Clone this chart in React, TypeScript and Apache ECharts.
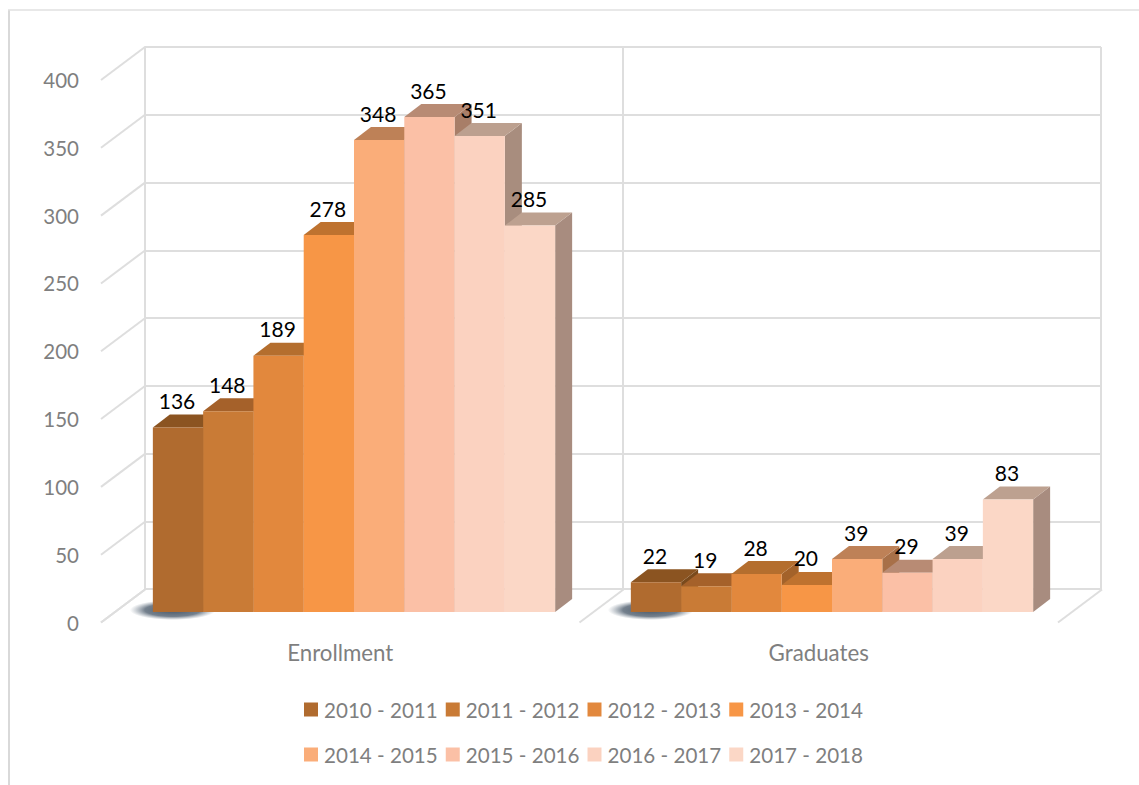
import React, { useEffect, useRef } from "react";
import * as echarts from "echarts";

const categories = ["Enrollment", "Graduates"];
const periods = ["2010 - 2011", "2011 - 2012", "2012 - 2013", "2013 - 2014", "2014 - 2015", "2015 - 2016", "2016 - 2017", "2017 - 2018"];
const v2010 = [136, 22];
const v2011 = [148, 19];
const v2012 = [189, 28];
const v2013 = [278, 20];
const v2014 = [348, 39];
const v2015 = [365, 29];
const v2016 = [351, 39];
const v2017 = [285, 83];
const allValues = [v2010, v2011, v2012, v2013, v2014, v2015, v2016, v2017];
const valueTicks = [0, 50, 100, 150, 200, 250, 300, 350, 400];
const floorStops = [0, 1, 2];

const frontColors = ["#B06B2F", "#C97B36", "#E2883D", "#F79646", "#FAAD79", "#FBC0A6", "#FBD2C0", "#FBD7C6"];
const topColors = ["#8B5421", "#A5612A", "#B46E2E", "#BE722F", "#BE8157", "#B88B74", "#BCA08F", "#BDA190"];
const sideColors = ["#7A4A1C", "#8C5524", "#A3622A", "#A8652A", "#A87048", "#A87E68", "#A88D7E", "#A88C7F"];

const FONT = "Lato";
const GREY = "#7F7F7F";
const WALL = "#DEDEDE";
const DEPTH_X = 17;
const DEPTH_Y = 13;
const WALL_X = 44;
const WALL_Y = 33;

function barRenderer(seriesIndex: number) {
  return (params: any, api: any) => {
    const cat = api.value(0);
    const val = api.value(1);
    const top = api.coord([cat, val]);
    const base = api.coord([cat, 0]);
    const w = api.size([1, 0])[0] * 0.1052;
    const x0 = top[0] + (seriesIndex - 4) * w;
    const x1 = x0 + w;
    const y0 = top[1];
    const y1 = base[1];
    const children: any[] = [];
    if (seriesIndex === 0) {
      children.push({
        type: "ellipse",
        shape: { cx: x0 + 20, cy: y1 - 2, rx: 43, ry: 10 },
        style: {
          fill: {
            type: "radial", x: 0.5, y: 0.5, r: 0.5,
            colorStops: [
              { offset: 0, color: "rgba(62,78,95,0.95)" },
              { offset: 0.65, color: "rgba(70,86,103,0.75)" },
              { offset: 1, color: "rgba(110,125,140,0)" },
            ],
          },
        },
      });
    }
    children.push(
      { type: "polygon", shape: { points: [[x1, y0], [x1 + DEPTH_X, y0 - DEPTH_Y], [x1 + DEPTH_X, y1 - DEPTH_Y], [x1, y1]] }, style: { fill: sideColors[seriesIndex] } },
      { type: "polygon", shape: { points: [[x0, y0], [x0 + DEPTH_X, y0 - DEPTH_Y], [x1 + DEPTH_X, y0 - DEPTH_Y], [x1, y0]] }, style: { fill: topColors[seriesIndex] } },
      { type: "rect", shape: { x: x0, y: y0, width: w, height: y1 - y0 }, style: { fill: frontColors[seriesIndex] } },
      {
        type: "text", z2: 100,
        style: { text: String(val), x: x0 + w / 2 - 1, y: y0 - 27, align: "center", verticalAlign: "middle", fill: "#000", font: `21px ${FONT}` },
      }
    );
    return { type: "group", children };
  };
}

function wallLines(params: any, api: any) {
  const cs = params.coordSys;
  const kind = api.value(0);
  const v = api.value(1);
  let x = cs.x;
  let y = api.coord([0, 0])[1];
  if (kind === 0) y = api.coord([0, v])[1];
  else x = cs.x + (v * cs.width) / 2;
  return {
    type: "line",
    shape: { x1: x, y1: y, x2: x + WALL_X, y2: y - WALL_Y },
    style: { stroke: WALL, lineWidth: 2 },
  };
}

export default function App() {
  const ref = useRef<HTMLDivElement>(null);
  useEffect(() => {
    document.body.style.margin = "0";
    const chart = echarts.init(ref.current!, null, { renderer: "svg" });
    const hiddenCat = { type: "category", data: categories, show: false };
    const hiddenVal = { type: "value", min: 0, max: 400, interval: 50, show: false };
    const legendBase = { orient: "horizontal", left: 299, itemWidth: 14, itemHeight: 14, itemGap: 8, icon: "rect", selectedMode: false, textStyle: { color: GREY, fontFamily: FONT, fontSize: 20.6, padding: [0, 0, 0, 1] } };
    chart.setOption({
      animation: false,
      backgroundColor: "#fff",
      graphic: [
        { type: "line", silent: true, z: -1, shape: { x1: 9, y1: 10, x2: 9, y2: 785 }, style: { stroke: "#D9D9D9", lineWidth: 2 } },
        { type: "line", silent: true, z: -1, shape: { x1: 8, y1: 10, x2: 1139, y2: 10 }, style: { stroke: "#E0E0E0", lineWidth: 1.5 } },
      ],
      grid: [
        { left: 145, width: 956, top: 47, height: 542 },
        { left: 101, width: 957, top: 80, height: 542.5 },
        { left: 115, width: 956, top: 69.6, height: 542.4 },
      ],
      xAxis: [
        {
          gridIndex: 0, type: "category", data: categories,
          axisLine: { show: true, lineStyle: { color: WALL, width: 2 } }, axisTick: { show: false }, axisLabel: { show: false },
          splitLine: { show: true, interval: 0, lineStyle: { color: WALL, width: 2 } },
        },
        {
          gridIndex: 1, type: "category", data: categories,
          axisLine: { show: false }, axisTick: { show: false },
          axisLabel: { color: GREY, fontFamily: FONT, fontSize: 22.3, margin: 19 },
        },
        { ...hiddenCat, gridIndex: 2 },
      ],
      yAxis: [
        {
          gridIndex: 0, type: "value", min: 0, max: 400, interval: 50,
          axisLine: { show: true, lineStyle: { color: WALL, width: 2 } }, axisTick: { show: false }, axisLabel: { show: false },
          splitLine: { show: true, lineStyle: { color: WALL, width: 2 } },
        },
        {
          gridIndex: 1, type: "value", min: 0, max: 400, interval: 50,
          axisLine: { show: false }, axisTick: { show: false }, splitLine: { show: false },
          axisLabel: { color: GREY, fontFamily: FONT, fontSize: 20.5, margin: 22 },
        },
        { ...hiddenVal, gridIndex: 2 },
      ],
      legend: [
        { ...legendBase, top: 694, data: periods.slice(0, 4) },
        { ...legendBase, top: 739, data: periods.slice(4) },
      ],
      series: [
        {
          type: "custom", name: "wall", xAxisIndex: 1, yAxisIndex: 1, silent: true, z: 1,
          renderItem: wallLines,
          encode: { x: 0, y: 1 },
          data: [...valueTicks.map((t) => [0, t]), ...floorStops.map((s) => [1, s])],
        },
        ...periods.map((name, i) => ({
          type: "custom",
          name,
          xAxisIndex: 2,
          yAxisIndex: 2,
          z: 3,
          silent: true,
          itemStyle: { color: frontColors[i] },
          renderItem: barRenderer(i),
          encode: { x: 0, y: 1 },
          data: allValues[i].map((v, c) => [c, v]),
        })),
      ],
    });
    return () => chart.dispose();
  }, []);
  return <div ref={ref} style={{ position: "fixed", left: 0, top: 0, width: 1139, height: 785 }} />;
}
